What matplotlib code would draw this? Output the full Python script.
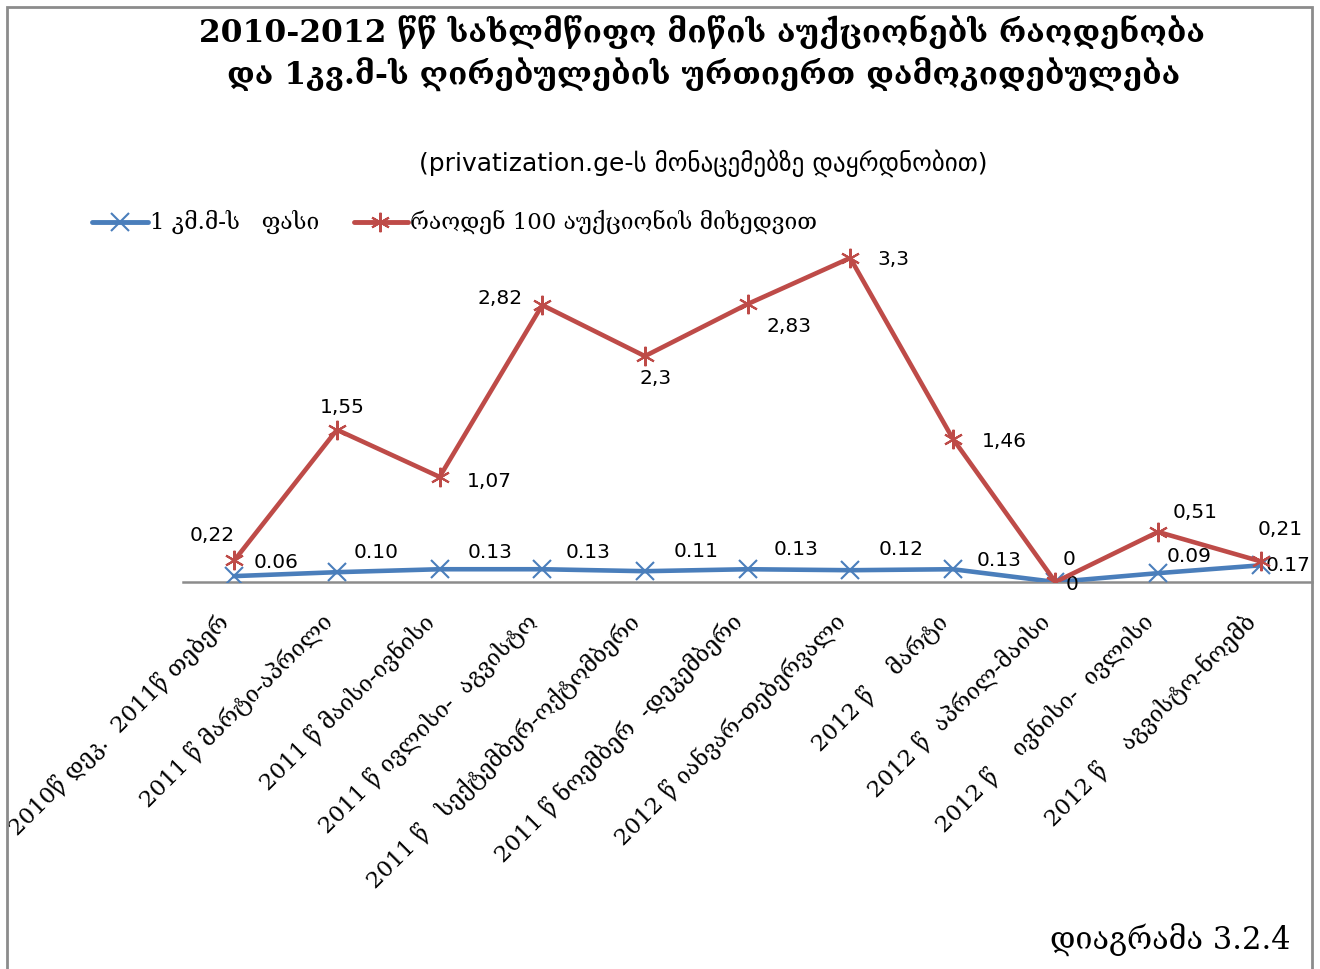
import matplotlib
matplotlib.use("Agg")
import matplotlib.pyplot as plt
from matplotlib.patches import Rectangle

plt.rcParams['font.family'] = ['DejaVu Serif', 'DejaVu Sans']

categories = [
    "2010წ დეკ.  2011წ თებერ",
    "2011 წ მარტი-აპრილი",
    "2011 წ მაისი-ივნისი",
    "2011 წ ივლისი-  აგვისტო",
    "2011 წ   სექტემბერ-ოქტომბერი",
    "2011 წ ნოემბერ  -დეკემბერი",
    "2012 წ იანვარ-თებერვალი",
    "2012 წ    მარტი",
    "2012 წ  აპრილ-მაისი",
    "2012 წ    ივნისი-  ივლისი",
    "2012 წ    აგვისტო-ნოემბ",
]
price_per_sqm = [0.06, 0.10, 0.13, 0.13, 0.11, 0.13, 0.12, 0.13, 0.0, 0.09, 0.17]
auctions_per_100 = [0.22, 1.55, 1.07, 2.82, 2.3, 2.83, 3.3, 1.46, 0.0, 0.51, 0.21]

series_names = ["1 კმ.მ-ს   ფასი", "რაოდენ 100 აუქციონის მიხედვით"]
title_lines = ["2010-2012 წწ სახლმწიფო მიწის აუქციონებს რაოდენობა",
               "და 1კვ.მ-ს ღირებულების ურთიერთ დამოკიდებულება"]
subtitle = "(privatization.ge-ს მონაცემებზე დაყრდნობით)"
caption = "დიაგრამა 3.2.4"

BLUE = "#4A7EBB"
RED = "#BE4B48"

W, H = 1320, 969
fig = plt.figure(figsize=(W / 100, H / 100), dpi=100)

def px(x0, y0, x1, y1):
    return [x0 / W, 1 - y1 / H, (x1 - x0) / W, (y1 - y0) / H]

# outer frame
fig.patches.append(Rectangle((7 / W, -0.01), (1312 - 7) / W, 1.01 - 7 / H,
                             transform=fig.transFigure, fill=False,
                             edgecolor="#8c8c8c", linewidth=2))

ymax = 3.5
ax = fig.add_axes(px(183, 582 - ymax * 98.2, 1312, 582))
x = list(range(len(categories)))
ax.plot(x, price_per_sqm, color=BLUE, lw=3.3, marker="x", ms=13, mew=1.5, zorder=3)
ax.plot(x, auctions_per_100, color=RED, lw=3.3, marker=(6, 2, 0), ms=14, mew=1.5, zorder=4)
ax.set_xlim(-0.5, len(categories) - 0.5)
ax.set_ylim(0, ymax)
for s in ["top", "right", "left"]:
    ax.spines[s].set_visible(False)
ax.spines["bottom"].set_color("#8c8c8c")
ax.spines["bottom"].set_linewidth(1.8)
ax.set_yticks([])
ax.set_xticks(x)
ax.set_xticklabels(categories, rotation=45, ha="right", va="top", fontsize=16.5)
ax.tick_params(axis="x", length=0, pad=20)

# data labels (offsets in points)
red_off = [(-16, 18), (4, 16), (36, -3), (-30, 5), (8, -16), (30, -16), (31, -1),
           (37, -2), (10, 16), (27, 14), (14, 23)]
blue_off = [(30, 10), (28, 14), (36, 12), (33, 12), (37, 14), (35, 14), (37, 15),
            (33, 6), (12, -2), (22, 12), (20, 0)]
for i, v in enumerate(auctions_per_100):
    lbl = ("%g" % v).replace(".", ",")
    ax.annotate(lbl, (i, v), xytext=red_off[i], textcoords="offset points",
                ha="center", va="center", fontsize=14.5, family="DejaVu Sans",
                annotation_clip=False)
for i, v in enumerate(price_per_sqm):
    lbl = "0" if v == 0 else "%.2f" % v
    ax.annotate(lbl, (i, v), xytext=blue_off[i], textcoords="offset points",
                ha="center", va="center", fontsize=14.5, family="DejaVu Sans",
                annotation_clip=False)

# titles
fig.text(702 / W, 1 - 32 / H, title_lines[0], ha="center", va="center",
         fontsize=22.5, fontweight="bold")
fig.text(704 / W, 1 - 75 / H, title_lines[1], ha="center", va="center",
         fontsize=22.5, fontweight="bold")
fig.text(703 / W, 1 - 163 / H, subtitle, ha="center", va="center",
         fontsize=18, family=["DejaVu Sans"])

# legend
lax = fig.add_axes([0, 0, 1, 1], facecolor="none")
lax.set_xlim(0, W)
lax.set_ylim(H, 0)
lax.axis("off")
lax.plot([92, 148], [222, 222], color=BLUE, lw=3.5, solid_capstyle="round")
lax.plot([120], [222], color=BLUE, marker="x", ms=13, mew=1.5)
lax.text(150, 222, series_names[0], ha="left", va="center", fontsize=16.5)
lax.plot([354, 408], [222, 222], color=RED, lw=3.5, solid_capstyle="round")
lax.plot([380], [222], color=RED, marker=(6, 2, 0), ms=14, mew=1.5)
lax.text(410, 222, series_names[1], ha="left", va="center", fontsize=16.5)

fig.text(1290 / W, 1 - 940 / H, caption, ha="right", va="center", fontsize=22)

fig.savefig("out.png", dpi=100)
